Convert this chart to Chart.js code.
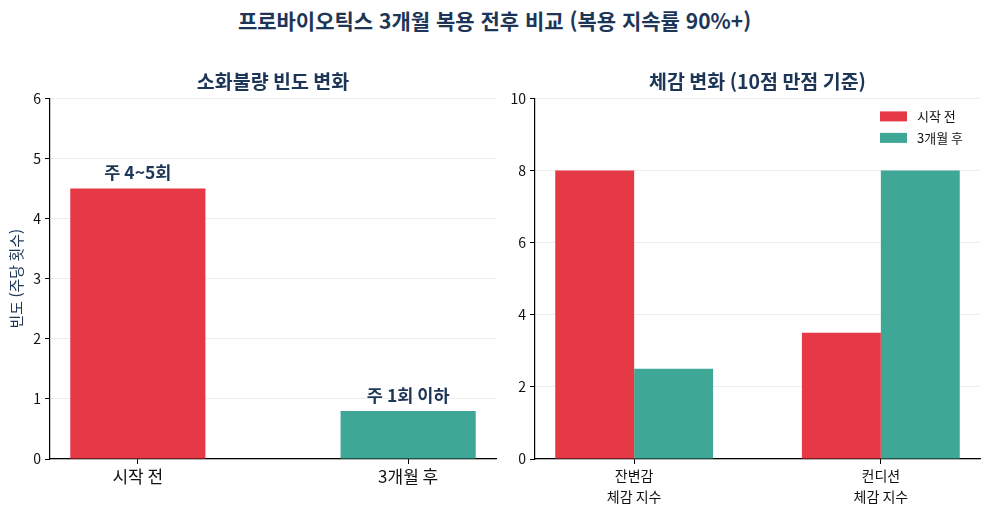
<!DOCTYPE html>
<html lang="ko">
<head>
<meta charset="utf-8">
<script src="https://cdn.jsdelivr.net/npm/chart.js@4.4.1/dist/chart.umd.min.js"></script>
<style>
  html, body { margin:0; padding:0; background:#fff; }
  body { width:989px; height:515px; position:relative; overflow:hidden; font-family:'Noto Sans CJK KR','Noto Sans',sans-serif; }
  #mainTitle { position:absolute; left:0; top:6px; width:989px; text-align:center; font-weight:bold; font-size:21px; line-height:28px; color:#1d3557; }
  #c1 { position:absolute; left:0; top:50px; }
  #c2 { position:absolute; left:495px; top:50px; }
</style>
</head>
<body>
<div id="mainTitle">프로바이오틱스 3개월 복용 전후 비교 (복용 지속률 90%+)</div>
<canvas id="c1" width="500" height="465"></canvas>
<canvas id="c2" width="494" height="465"></canvas>
<script>
// ---- data ----
const leftTitle = '소화불량 빈도 변화';
const leftYTitle = '빈도 (주당 횟수)';
const leftCategories = ['시작 전', '3개월 후'];
const leftValues = [4.5, 0.8];
const leftBarLabels = ['주 4~5회', '주 1회 이하'];

const rightTitle = '체감 변화 (10점 만점 기준)';
const rightCategories = [['잔변감', '체감 지수'], ['컨디션', '체감 지수']];
const seriesNames = ['시작 전', '3개월 후'];
const rightBefore = [8, 3.5];
const rightAfter = [2.5, 8];

// ---- styles ----
const RED = '#e63946';
const TEAL = '#3fa796';
const NAVY = '#1d3557';
const FONT = "'Noto Sans CJK KR','Noto Sans',sans-serif";
Chart.defaults.font.family = FONT;
Chart.defaults.color = '#111';

const barLabelPlugin = {
  id: 'barLabels',
  afterDatasetsDraw(chart, args, opts) {
    if (!opts.labels) return;
    const ctx = chart.ctx;
    const meta = chart.getDatasetMeta(0);
    ctx.save();
    ctx.font = 'bold 17.5px ' + FONT;
    ctx.fillStyle = NAVY;
    ctx.textAlign = 'center';
    ctx.textBaseline = 'middle';
    meta.data.forEach((el, i) => {
      ctx.fillText(opts.labels[i], el.x, el.y - 16);
    });
    ctx.restore();
  }
};

const innerLegendPlugin = {
  id: 'innerLegend',
  afterDraw(chart, args, opts) {
    if (!opts.show) return;
    const ctx = chart.ctx;
    const a = chart.chartArea;
    ctx.save();
    ctx.font = '13px ' + FONT;
    ctx.textBaseline = 'middle';
    ctx.textAlign = 'left';
    chart.data.datasets.forEach((ds, i) => {
      const bx = a.right - 100;
      const by = a.top + 13 + i * 21.5;
      ctx.fillStyle = ds.backgroundColor;
      ctx.fillRect(bx, by, 27, 10);
      ctx.fillStyle = '#111';
      ctx.fillText(ds.label, bx + 37, by + 5);
    });
    ctx.restore();
  }
};

function xScale(cats, min, max, fontSize, lineH) {
  return {
    type: 'linear', min: min, max: max, offset: false,
    afterBuildTicks: s => { s.ticks = cats.map((c, i) => ({ value: i })); },
    afterFit: s => { s.height = 56; },
    ticks: {
      autoSkip: false, maxRotation: 0, padding: 2,
      font: { size: fontSize, lineHeight: lineH }, color: '#111',
      callback: v => cats[v]
    },
    grid: { drawOnChartArea: false, drawTicks: true, tickLength: 5, tickColor: '#000', offset: false },
    border: { display: true, color: '#000', width: 1.2 }
  };
}

function yScale(max, step, width, title) {
  const s = {
    min: 0, max: max,
    afterFit: sc => { sc.width = width; },
    ticks: { stepSize: step, padding: 4, font: { size: 14 }, color: '#111' },
    grid: { color: 'rgba(0,0,0,0.07)', lineWidth: 1, tickLength: 5, tickColor: '#000' },
    border: { display: true, color: '#000', width: 1.2 }
  };
  if (title) {
    s.title = { display: true, text: title, color: NAVY, font: { size: 15 }, padding: { top: 7, bottom: 0 } };
  }
  return s;
}

new Chart(document.getElementById('c1'), {
  type: 'bar',
  data: {
    datasets: [{
      label: leftYTitle,
      data: leftCategories.map((c, i) => ({ x: i, y: leftValues[i] })),
      backgroundColor: [RED, TEAL],
      barPercentage: 0.5,
      categoryPercentage: 1.0
    }]
  },
  options: {
    responsive: false, animation: false, devicePixelRatio: 1,
    layout: { padding: { left: 0, right: 4, top: 0, bottom: 0 } },
    plugins: {
      legend: { display: false },
      tooltip: { enabled: false },
      title: { display: true, fullSize: false, text: leftTitle, color: NAVY, font: { size: 19.5, weight: 'bold' }, padding: { top: 20, bottom: 5 } },
      barLabels: { labels: leftBarLabels },
      innerLegend: { show: false }
    },
    scales: {
      x: xScale(leftCategories, -0.325, 1.325, 17, 1.2),
      y: yScale(6, 1, 50, leftYTitle)
    }
  },
  plugins: [barLabelPlugin, innerLegendPlugin]
});

new Chart(document.getElementById('c2'), {
  type: 'bar',
  data: {
    datasets: [
      { label: seriesNames[0], data: rightCategories.map((c, i) => ({ x: i, y: rightBefore[i] })), backgroundColor: RED, barPercentage: 1.0, categoryPercentage: 0.64 },
      { label: seriesNames[1], data: rightCategories.map((c, i) => ({ x: i, y: rightAfter[i] })), backgroundColor: TEAL, barPercentage: 1.0, categoryPercentage: 0.64 }
    ]
  },
  options: {
    responsive: false, animation: false, devicePixelRatio: 1,
    layout: { padding: { left: 0, right: 9, top: 0, bottom: 0 } },
    plugins: {
      legend: { display: false },
      tooltip: { enabled: false },
      title: { display: true, fullSize: false, text: rightTitle, color: NAVY, font: { size: 19.5, weight: 'bold' }, padding: { top: 20, bottom: 5 } },
      barLabels: { labels: null },
      innerLegend: { show: true }
    },
    scales: {
      x: xScale(rightCategories, -0.402, 1.402, 14, 1.45),
      y: yScale(10, 2, 40, null)
    }
  },
  plugins: [barLabelPlugin, innerLegendPlugin]
});
</script>
</body>
</html>
